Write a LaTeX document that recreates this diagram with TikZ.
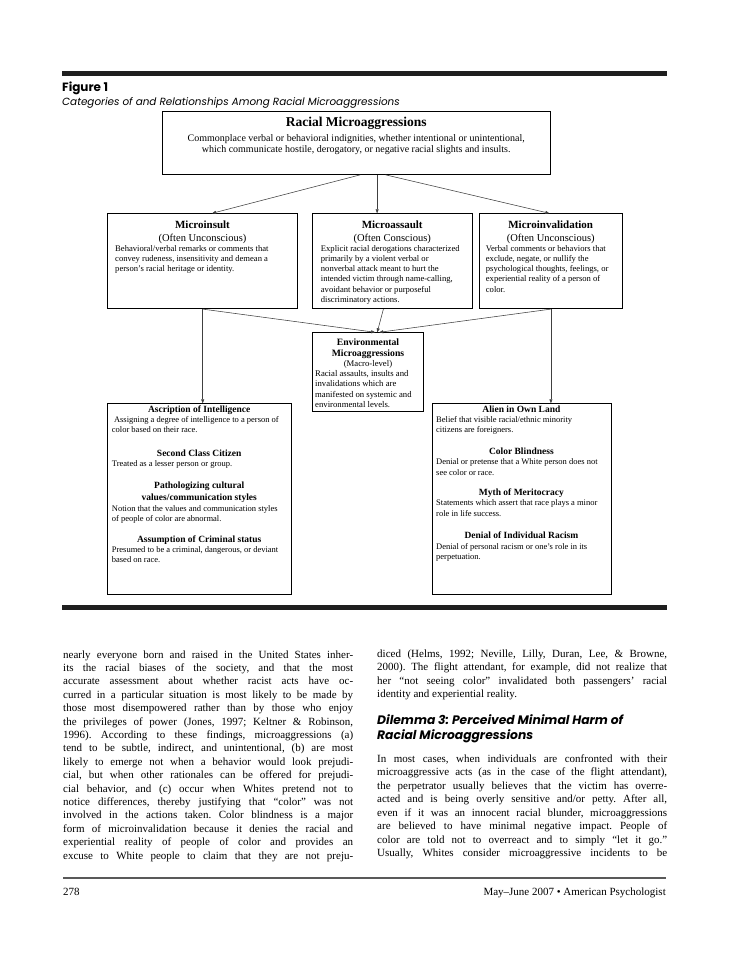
\documentclass[tikz,border=0pt]{standalone}
\usepackage{fontspec}
\setmainfont{Liberation Serif}
\newfontfamily\futura{Poppins}
\usetikzlibrary{arrows.meta}
\frenchspacing
\newcommand{\fs}[2]{\fontsize{#1}{#2}\selectfont}
\newcommand{\jline}[1]{\hbox to\hsize{#1}}
\newcommand{\lline}[1]{\hbox to\hsize{#1\hfil}}
\newcommand{\ctitle}[2]{\centerline{\fs{#1}{10}\bfseries #2}}
\tikzset{
  frame/.style={draw=black, line width=0.8pt, inner sep=0pt, anchor=north west},
  txt/.style={inner sep=0pt, anchor=base west},
  arr/.style={draw=black!75, line width=0.55pt, -{Triangle[length=4pt,width=3pt]}},
}
\begin{document}
\begin{tikzpicture}[x=1pt,y=-1pt]
\useasboundingbox (0,0) rectangle (728,971);
\fill[white] (0,0) rectangle (728,971);
% rules
\fill[black!88] (62,71) rectangle (667,76);
\fill[black!88] (62,605) rectangle (667,610);
\draw[line width=1.3pt, black!65] (63,878) -- (666,878);
% heading
\node[txt] (fig) at (62,92) {\futura\bfseries\fs{12}{13}Figure 1};
\node[txt] (cap) at (62,106) {\futura\itshape\fs{10.4}{12}Categories of and Relationships Among Racial Microaggressions};
% boxes
\node[frame, minimum width=388pt, minimum height=63pt] (top) at (162,111) {};
\node[frame, minimum width=190pt, minimum height=95pt] (insult) at (107.3,213.3) {};
\node[frame, minimum width=159.4pt, minimum height=95pt] (assault) at (312.3,213.3) {};
\node[frame, minimum width=142.4pt, minimum height=95pt] (inval) at (479.3,213.3) {};
\node[frame, minimum width=111pt, minimum height=78.4pt] (env) at (312.3,332.3) {};
\node[frame, minimum width=183.4pt, minimum height=190.7pt] (ascr) at (107.3,403.3) {};
\node[frame, minimum width=179pt, minimum height=190.7pt] (alien) at (431.7,403.3) {};
% box texts
\node[txt] (topT) at (162,127) {\parbox[t]{388pt}{\fs{10}{11.7}%
\centerline{\fs{13.5}{12}\bfseries Racial Microaggressions}\kern 2.3pt
\centerline{Commonplace verbal or behavioral indignities, whether intentional or unintentional,}
\centerline{which communicate hostile, derogatory, or negative racial slights and insults.}}};
\node[txt] (insultT) at (115,228) {\parbox[t]{174.6pt}{\fs{8.6}{10.2}%
\ctitle{11}{Microinsult}\kern 2.8pt
\centerline{\fs{10.5}{10}(Often Unconscious)}
\lline{Behavioral/verbal remarks or comments that}
\lline{convey rudeness, insensitivity and demean a}
\lline{person’s racial heritage or identity.}}};
\node[txt] (assaultT) at (320.7,228) {\parbox[t]{142.6pt}{\fs{8.6}{10.2}%
\ctitle{11}{Microassault}\kern 2.8pt
\centerline{\fs{10.5}{10}(Often Conscious)}
\lline{Explicit racial derogations characterized}
\lline{primarily by a violent verbal or}
\lline{nonverbal attack meant to hurt the}
\lline{intended victim through name-calling,}
\lline{avoidant behavior or purposeful}
\lline{discriminatory actions.}}};
\node[txt] (invalT) at (485.7,228) {\parbox[t]{129.6pt}{\fs{8.6}{10.2}%
\ctitle{11}{Microinvalidation}\kern 2.8pt
\centerline{\fs{10.5}{10}(Often Unconscious)}
\lline{Verbal comments or behaviors that}
\lline{exclude, negate, or nullify the}
\lline{psychological thoughts, feelings, or}
\lline{experiential reality of a person of}
\lline{color.}}};
\node[txt] (envT) at (315,345) {\parbox[t]{105.6pt}{\fs{8.7}{10.3}%
\ctitle{9.7}{Environmental}\kern 0.7pt
\ctitle{9.7}{Microaggressions}
\centerline{(Macro-level)}
\lline{Racial assaults, insults and}
\lline{invalidations which are}
\lline{manifested on systemic and}
\lline{environmental levels.}}};
\node[txt] (ascrT) at (111.7,412) {\parbox[t]{174.6pt}{\fs{8.5}{10.4}%
\ctitle{9.5}{Ascription of Intelligence}
\lline{\ Assigning a degree of intelligence to a person of}
\lline{color based on their race.}\kern 13pt
\ctitle{9.5}{Second Class Citizen}
\lline{Treated as a lesser person or group.}\kern 11pt
\ctitle{9.5}{Pathologizing cultural}\kern 2.5pt
\ctitle{9.5}{values/communication styles}
\lline{Notion that the values and communication styles}
\lline{of people of color are abnormal.}\kern 10pt
\ctitle{9.5}{Assumption of Criminal status}
\lline{Presumed to be a criminal, dangerous, or deviant}
\lline{based on race.}}};
\node[txt] (alienT) at (436,412) {\parbox[t]{170.4pt}{\fs{8.5}{10.4}%
\ctitle{9.5}{Alien in Own Land}
\lline{Belief that visible racial/ethnic minority}
\lline{citizens are foreigners.}\kern 11pt
\ctitle{9.5}{Color Blindness}
\lline{Denial or pretense that a White person does not}
\lline{see color or race.}\kern 10pt
\ctitle{9.5}{Myth of Meritocracy}
\lline{Statements which assert that race plays a minor}
\lline{role in life success.}\kern 12pt
\ctitle{9.5}{Denial of Individual Racism}
\lline{Denial of personal racism or one’s role in its}
\lline{perpetuation.}}};
% connectors
\draw[arr] ([xshift=4pt]top.south) -- ([xshift=9.4pt]insult.north);
\draw[arr] ([xshift=20.7pt]top.south) -- ([xshift=-15.3pt]assault.north);
\draw[arr] ([xshift=29pt]top.south) -- ([xshift=-1.5pt]inval.north);
\draw[arr] (insult.south) -- (ascr.north -| insult.south);
\draw[arr] (insult.south) -- ([xshift=7pt]env.north);
\draw[arr] ([xshift=-9pt]assault.south) -- ([xshift=9pt]env.north);
\draw[arr] (inval.south) -- ([xshift=11pt]env.north);
\draw[arr] (inval.south) -- (alien.north -| inval.south);
% body text
\node[txt] (leftcol) at (63,658) {\parbox[t]{290pt}{\fs{11}{13.4}%
\jline{nearly everyone born and raised in the United States inher-}
\jline{its the racial biases of the society, and that the most}
\jline{accurate assessment about whether racist acts have oc-}
\jline{curred in a particular situation is most likely to be made by}
\jline{those most disempowered rather than by those who enjoy}
\jline{the privileges of power (Jones, 1997; Keltner \& Robinson,}
\jline{1996). According to these findings, microaggressions (a)}
\jline{tend to be subtle, indirect, and unintentional, (b) are most}
\jline{likely to emerge not when a behavior would look prejudi-}
\jline{cial, but when other rationales can be offered for prejudi-}
\jline{cial behavior, and (c) occur when Whites pretend not to}
\jline{notice differences, thereby justifying that “color” was not}
\jline{involved in the actions taken. Color blindness is a major}
\jline{form of microinvalidation because it denies the racial and}
\jline{experiential reality of people of color and provides an}
\jline{excuse to White people to claim that they are not preju-}}};
\node[txt] (rightA) at (377,657) {\parbox[t]{290pt}{\fs{11}{13.5}%
\jline{diced (Helms, 1992; Neville, Lilly, Duran, Lee, \& Browne,}
\jline{2000). The flight attendant, for example, did not realize that}
\jline{her “not seeing color” invalidated both passengers’ racial}
\lline{identity and experiential reality.}}};
\node[txt] (rightH) at (377,724) {\parbox[t]{290pt}{\fs{12.3}{15.5}\futura\bfseries\itshape
\lline{Dilemma 3: Perceived Minimal Harm of}
\lline{Racial Microaggressions}}};
\node[txt] (rightB) at (377,762) {\parbox[t]{290pt}{\fs{11}{13.5}%
\jline{In most cases, when individuals are confronted with their}
\jline{microaggressive acts (as in the case of the flight attendant),}
\jline{the perpetrator usually believes that the victim has overre-}
\jline{acted and is being overly sensitive and/or petty. After all,}
\jline{even if it was an innocent racial blunder, microaggressions}
\jline{are believed to have minimal negative impact. People of}
\jline{color are told not to overreact and to simply “let it go.”}
\jline{Usually, Whites consider microaggressive incidents to be}}};
% footer
\node[txt] (page) at (63,895) {\fs{11}{13}278};
\node[inner sep=0pt, anchor=base east] (journal) at (666,895) {\fs{11}{13}May–June 2007 • American Psychologist};
\end{tikzpicture}
\end{document}
